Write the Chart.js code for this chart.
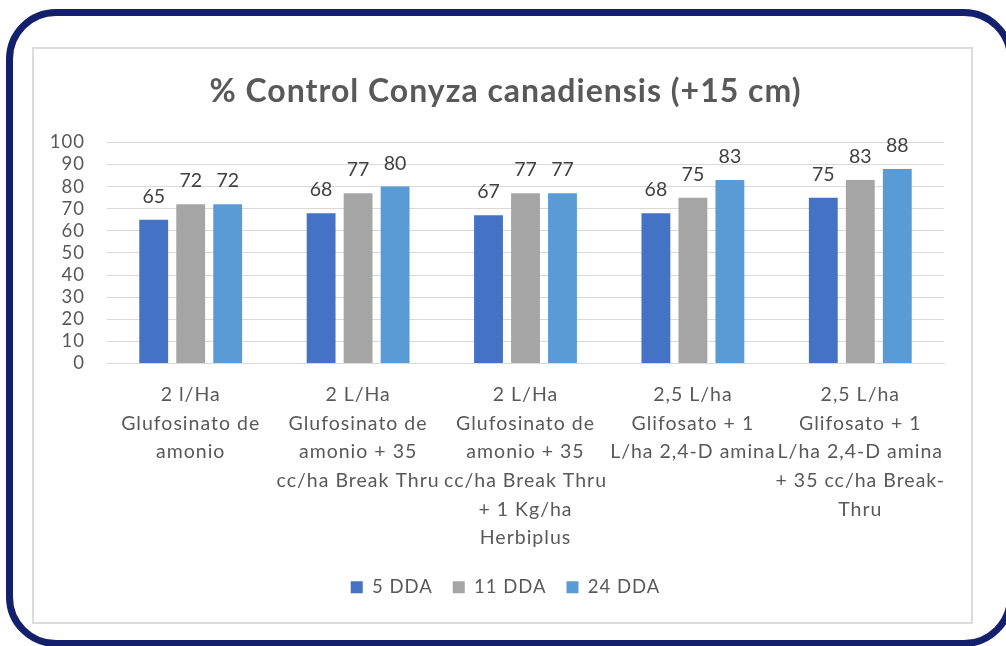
<!DOCTYPE html>
<html>
<head>
<meta charset="utf-8">
<script src="https://cdn.jsdelivr.net/npm/chart.js@4.4.0/dist/chart.umd.min.js"></script>
<style>
  html, body { margin: 0; padding: 0; background: #fff; }
  body { width: 1006px; height: 646px; position: relative; overflow: hidden; }
  #frame { position: absolute; left: 6px; top: 9px; width: 1008px; height: 638px; box-sizing: border-box; border: 7px solid #13206c; border-radius: 50px; }
  #box { position: absolute; left: 32px; top: 47px; width: 941px; height: 577px; box-sizing: border-box; border: 2px solid #dcdcdc; }
  #wrap { position: absolute; left: 0; top: 0; width: 1006px; height: 646px; }
</style>
</head>
<body>
<div id="frame"></div>
<div id="box"></div>
<div id="wrap"><canvas id="chart"></canvas></div>
<script>
// --- Datos ---
const categories = [
  ['2 l/Ha', 'Glufosinato de', 'amonio'],
  ['2 L/Ha', 'Glufosinato de', 'amonio + 35', 'cc/ha Break Thru'],
  ['2 L/Ha', 'Glufosinato de', 'amonio + 35', 'cc/ha Break Thru', '+ 1 Kg/ha', 'Herbiplus'],
  ['2,5 L/ha', 'Glifosato + 1', 'L/ha 2,4-D amina'],
  ['2,5 L/ha', 'Glifosato + 1', 'L/ha 2,4-D amina', '+ 35 cc/ha Break-', 'Thru']
];
const seriesNames = ['5 DDA', '11 DDA', '24 DDA'];
const dda5 = [65, 68, 67, 68, 75];
const dda11 = [72, 77, 77, 75, 83];
const dda24 = [72, 80, 77, 83, 88];
const yMin = 0;
const yMax = 100;
const yStep = 10;

const FONT = 'Lato, Calibri, Carlito, sans-serif';
const TEXT_COLOR = '#595959';

// Espaciado de letras un poco más ancho, como en el gráfico de Excel
const letterSpacing = {
  id: 'letterSpacing',
  beforeUpdate(chart) { chart.ctx.letterSpacing = '1px'; },
  beforeDraw(chart) { chart.ctx.letterSpacing = '1px'; }
};

// Etiquetas de valor encima de cada barra
const barValueLabels = {
  id: 'barValueLabels',
  afterDatasetsDraw(chart) {
    const ctx = chart.ctx;
    ctx.save();
    ctx.letterSpacing = '0px';
    ctx.font = '19.5px ' + FONT;
    ctx.fillStyle = '#404040';
    ctx.textAlign = 'center';
    ctx.textBaseline = 'alphabetic';
    chart.data.datasets.forEach((ds, i) => {
      chart.getDatasetMeta(i).data.forEach((bar, j) => {
        ctx.fillText(ds.data[j], bar.x, bar.y - 17);
      });
    });
    ctx.restore();
  }
};

new Chart(document.getElementById('chart'), {
  type: 'bar',
  data: {
    labels: categories,
    datasets: [
      { label: seriesNames[0], data: dda5, backgroundColor: '#4472C4' },
      { label: seriesNames[1], data: dda11, backgroundColor: '#A5A5A5' },
      { label: seriesNames[2], data: dda24, backgroundColor: '#5B9BD5' }
    ]
  },
  options: {
    responsive: true,
    maintainAspectRatio: false,
    animation: false,
    datasets: {
      bar: { categoryPercentage: 0.663, barPercentage: 0.78 }
    },
    layout: { padding: { left: 47, right: 42, top: 72, bottom: 39.5 } },
    plugins: {
      title: {
        display: true,
        text: '% Control Conyza canadiensis (+15 cm)',
        color: TEXT_COLOR,
        font: { family: FONT, size: 32, weight: 'bold', lineHeight: 1.2 },
        padding: { top: 0, bottom: 32 }
      },
      legend: {
        position: 'bottom',
        labels: {
          boxWidth: 12,
          boxHeight: 12,
          padding: 20,
          color: TEXT_COLOR,
          font: { family: FONT, size: 18.5 }
        }
      },
      tooltip: { enabled: false }
    },
    scales: {
      x: {
        grid: { display: false, drawTicks: false },
        border: { display: true, color: '#d9d9d9', width: 1 },
        ticks: {
          color: TEXT_COLOR,
          font: { family: FONT, size: 19.5, lineHeight: 1.47 },
          padding: 17,
          maxRotation: 0,
          autoSkip: false
        },
        afterFit(scale) { scale.height = 194.5; }
      },
      y: {
        min: yMin,
        max: yMax,
        grid: { color: '#d9d9d9', drawTicks: false },
        border: { display: false },
        ticks: {
          stepSize: yStep,
          autoSkip: false,
          color: TEXT_COLOR,
          font: { family: FONT, size: 18.5 },
          padding: 22
        },
        afterFit(scale) { scale.width = 60; }
      },
      // eje vacío a la derecha solo para centrar título y leyenda como en el original
      yRight: {
        type: 'linear',
        position: 'right',
        grid: { display: false, drawTicks: false },
        border: { display: false },
        ticks: { display: false },
        afterFit(scale) { scale.width = 20; }
      }
    }
  },
  plugins: [letterSpacing, barValueLabels]
});
</script>
</body>
</html>
